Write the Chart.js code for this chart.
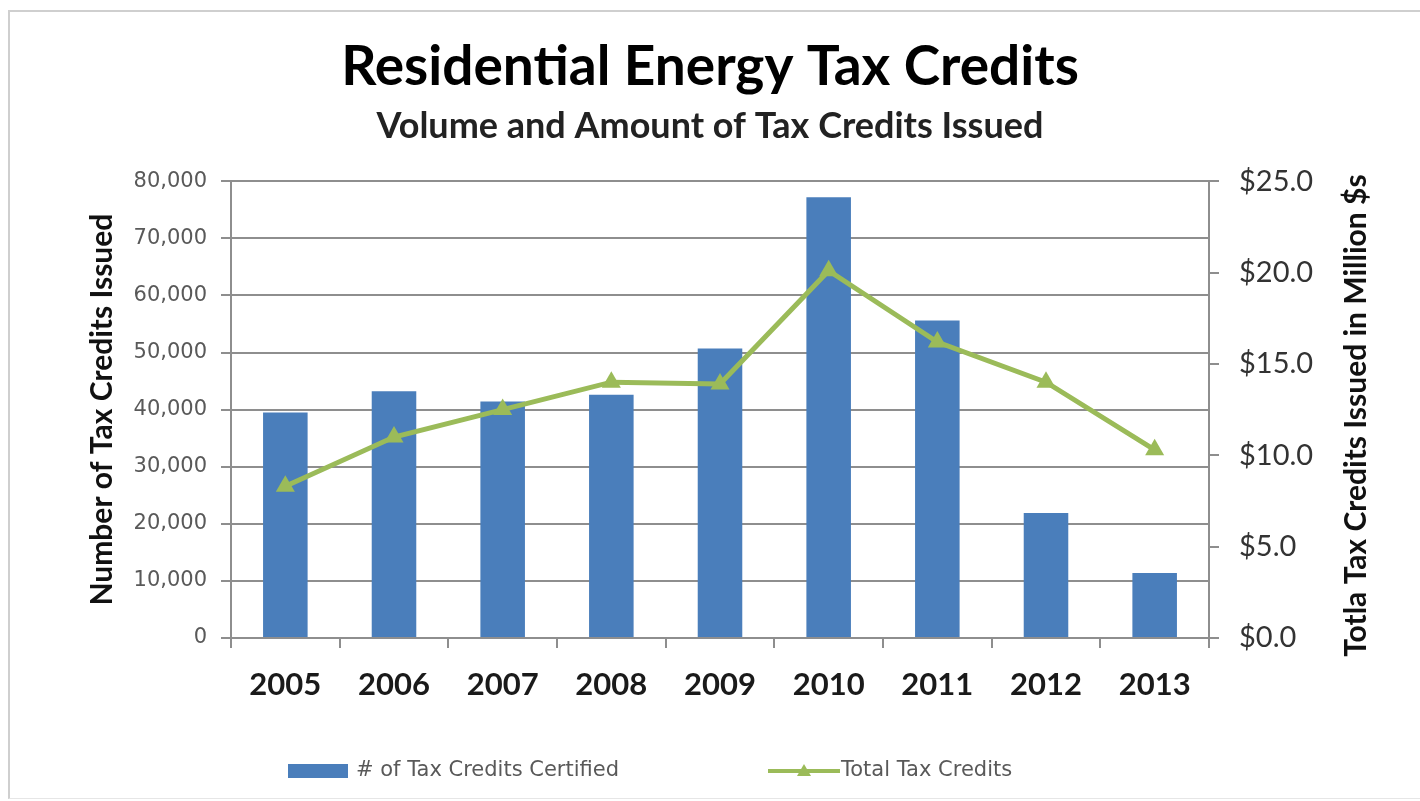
<!DOCTYPE html>
<html>
<head>
<meta charset="utf-8">
<title>Residential Energy Tax Credits</title>
<script src="https://cdn.jsdelivr.net/npm/chart.js@4.4.1/dist/chart.umd.min.js"></script>
<style>
  html, body { margin: 0; padding: 0; background: #fff; }
  #wrap { position: relative; width: 1420px; height: 801px; }
  #frame {
    position: absolute; left: 8px; top: 10px; width: 1420px; height: 786px;
    border-top: 2px solid #cfcfcf; border-left: 2px solid #cfcfcf; border-bottom: 1px solid #e6e6e6;
    pointer-events: none;
  }
</style>
</head>
<body>
<div id="wrap">
  <canvas id="chart" width="1420" height="801"></canvas>
  <div id="frame"></div>
</div>
<script>
const years = ['2005', '2006', '2007', '2008', '2009', '2010', '2011', '2012', '2013'];
const creditsCertified = [39500, 43200, 41400, 42600, 50700, 77200, 55600, 21900, 11400];
const totalCreditsMillions = [8.3, 11.0, 12.5, 14.0, 13.9, 20.1, 16.2, 14.0, 10.3];
const leftTicks = [0, 10000, 20000, 30000, 40000, 50000, 60000, 70000, 80000];
const rightTicks = [0, 5, 10, 15, 20, 25];

const BLUE = '#4a7ebb';
const GREEN = '#9bbb59';
const GRID = '#8e8e8e';

// right axis title reads bottom-to-top, so it is drawn here instead of by the scale
const rightAxisTitle = {
  id: 'rightAxisTitle',
  afterDraw(chart) {
    const ctx = chart.ctx;
    const area = chart.chartArea;
    ctx.save();
    ctx.translate(1356, (area.top + area.bottom) / 2 + 6);
    ctx.rotate(-Math.PI / 2);
    ctx.font = 'bold 30px Lato';
    ctx.fillStyle = '#111';
    ctx.textAlign = 'center';
    ctx.textBaseline = 'middle';
    ctx.fillText('Totla Tax Credits Issued in Million $s', 0, 0);
    ctx.restore();
  }
};

// legend drawn under the axis, bar swatch + line-with-marker swatch
const bottomLegend = {
  id: 'bottomLegend',
  afterDraw(chart) {
    const ctx = chart.ctx;
    const y = 771;
    ctx.save();
    ctx.font = '21px "DejaVu Sans"';
    ctx.textBaseline = 'middle';

    ctx.fillStyle = BLUE;
    ctx.fillRect(288, y - 7, 60, 14);
    ctx.fillStyle = '#595959';
    ctx.fillText('# of Tax Credits Certified', 356, y);

    ctx.strokeStyle = GREEN;
    ctx.lineWidth = 4;
    ctx.beginPath();
    ctx.moveTo(768, y);
    ctx.lineTo(840, y);
    ctx.stroke();
    ctx.fillStyle = GREEN;
    ctx.beginPath();
    ctx.moveTo(804, y - 7);
    ctx.lineTo(811, y + 5);
    ctx.lineTo(797, y + 5);
    ctx.closePath();
    ctx.fill();
    ctx.fillStyle = '#595959';
    ctx.fillText('Total Tax Credits', 841, y);
    ctx.restore();
  }
};

new Chart(document.getElementById('chart'), {
  data: {
    labels: years,
    datasets: [
      {
        type: 'line',
        label: 'Total Tax Credits',
        data: totalCreditsMillions,
        yAxisID: 'yRight',
        borderColor: GREEN,
        backgroundColor: GREEN,
        borderWidth: 5,
        pointStyle: 'triangle',
        pointRadius: 11,
        pointBorderWidth: 0,
        tension: 0,
        order: 0
      },
      {
        type: 'bar',
        label: '# of Tax Credits Certified',
        data: creditsCertified,
        yAxisID: 'yLeft',
        backgroundColor: BLUE,
        categoryPercentage: 1,
        barPercentage: 0.41,
        order: 1
      }
    ]
  },
  options: {
    responsive: false,
    animation: false,
    layout: { padding: 0 },
    plugins: {
      legend: { display: false },
      tooltip: { enabled: false },
      title: {
        display: true,
        text: 'Residential Energy Tax Credits',
        color: '#000',
        font: { family: 'Lato', size: 55, weight: 'bold' },
        padding: { top: 34, bottom: 5 }
      },
      subtitle: {
        display: true,
        text: 'Volume and Amount of Tax Credits Issued',
        color: '#222',
        font: { family: 'Lato', size: 36, weight: 'bold' },
        padding: { top: 0, bottom: 33 }
      }
    },
    scales: {
      x: {
        offset: true,
        afterFit(scale) { scale.height = 163; },
        grid: { drawOnChartArea: false, offset: true, tickLength: 10, color: GRID, lineWidth: 2 },
        border: { display: true, color: GRID, width: 2 },
        ticks: { color: '#1a1a1a', padding: 18, font: { family: 'Lato', size: 31, weight: 'bold' } }
      },
      yLeft: {
        position: 'left',
        min: 0,
        max: 80000,
        afterFit(scale) { scale.width = 231; },
        afterBuildTicks(scale) { scale.ticks = leftTicks.map(v => ({ value: v })); },
        grid: { color: GRID, lineWidth: 2, tickLength: 10 },
        border: { display: true, color: GRID, width: 2 },
        ticks: {
          color: '#595959',
          padding: 14,
          font: { family: 'DejaVu Sans', size: 21 },
          callback: v => v.toLocaleString('en-US')
        },
        title: {
          display: true,
          text: 'Number of Tax Credits Issued',
          color: '#111',
          padding: { top: 84, bottom: 0 },
          font: { family: 'Lato', size: 30, weight: 'bold' }
        }
      },
      yRight: {
        position: 'right',
        min: 0,
        max: 25,
        afterFit(scale) { scale.width = 211; },
        afterBuildTicks(scale) { scale.ticks = rightTicks.map(v => ({ value: v })); },
        grid: { drawOnChartArea: false, color: GRID, lineWidth: 2, tickLength: 10 },
        border: { display: true, color: GRID, width: 2 },
        ticks: {
          color: '#333',
          padding: 20,
          font: { family: 'Lato', size: 29 },
          callback: v => '$' + v.toFixed(1)
        }
      }
    }
  },
  plugins: [rightAxisTitle, bottomLegend]
});
</script>
</body>
</html>
